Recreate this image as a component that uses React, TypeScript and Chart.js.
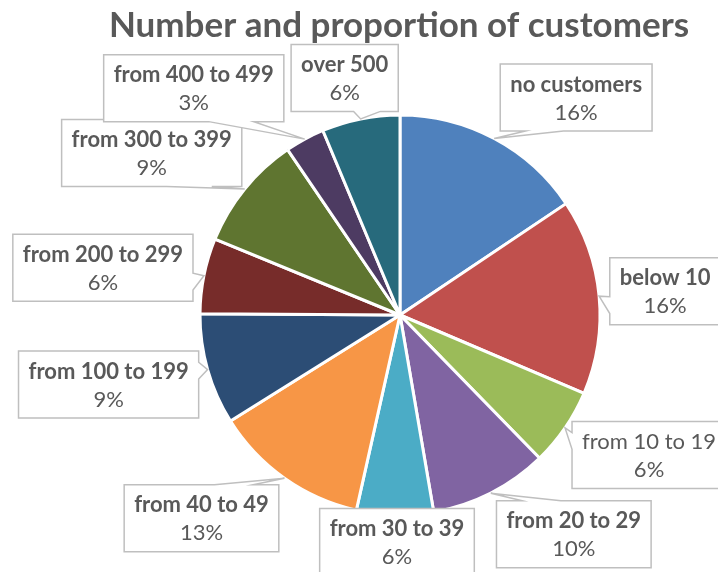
import React, { useEffect, useRef } from "react";
import { Chart, registerables } from "chart.js";

Chart.register(...registerables);

const TITLE = "Number and proportion of customers";
const categories = [
  "no customers",
  "below 10",
  "from 10 to 19",
  "from 20 to 29",
  "from 30 to 39",
  "from 40 to 49",
  "from 100 to 199",
  "from 200 to 299",
  "from 300 to 399",
  "from 400 to 499",
  "over 500",
];
const shares = [15.6, 15.8, 6.3, 9.6, 6.2, 12.6, 9.0, 6.1, 9.3, 3.2, 6.3];

const colors = [
  "#4F81BD", "#C0504D", "#9BBB59", "#8064A2", "#4BACC6", "#F79646",
  "#2C4D75", "#772C2A", "#5F7530", "#4D3B62", "#276A7C",
];
// callout box centre offsets relative to the slice's outer mid point
const labelOffsetX = [82, 66, 84, 83, 2, -83, -99, -101, -93, -111, -16];
const labelOffsetY = [-41, -5, 27, 41, 27, 40, 15, -8, -36, -51, -41];
const boldName = [true, true, false, true, true, true, true, true, true, true, true];

const FONT = "Lato, 'Open Sans', sans-serif";
const TEXT = "#595959";
const LABEL_SIZE = 22;

function calloutPath(ctx: CanvasRenderingContext2D, l: number, t: number, w: number, h: number, px: number, py: number) {
  const r = l + w, b = t + h;
  const hc = l + w / 2, vc = t + h / 2;
  const dx = px - hc, dy = py - vc;
  ctx.beginPath();
  const inside = px >= l && px <= r && py >= t && py <= b;
  if (inside) {
    ctx.rect(l, t, w, h);
    return;
  }
  const dq = (dx * h) / w;
  const dz = Math.abs(dy) - Math.abs(dq);
  if (dz > 0) {
    const x1 = l + (w * (dx > 0 ? 7 : 2)) / 12;
    const x2 = l + (w * (dx > 0 ? 10 : 5)) / 12;
    if (dy < 0) {
      ctx.moveTo(l, t); ctx.lineTo(x1, t); ctx.lineTo(px, py); ctx.lineTo(x2, t);
      ctx.lineTo(r, t); ctx.lineTo(r, b); ctx.lineTo(l, b); ctx.closePath();
    } else {
      ctx.moveTo(l, t); ctx.lineTo(r, t); ctx.lineTo(r, b); ctx.lineTo(x2, b);
      ctx.lineTo(px, py); ctx.lineTo(x1, b); ctx.lineTo(l, b); ctx.closePath();
    }
  } else {
    const y1 = t + (h * (dy > 0 ? 7 : 2)) / 12;
    const y2 = t + (h * (dy > 0 ? 10 : 5)) / 12;
    if (dx < 0) {
      ctx.moveTo(l, t); ctx.lineTo(r, t); ctx.lineTo(r, b); ctx.lineTo(l, b);
      ctx.lineTo(l, y2); ctx.lineTo(px, py); ctx.lineTo(l, y1); ctx.closePath();
    } else {
      ctx.moveTo(l, t); ctx.lineTo(r, t); ctx.lineTo(r, y1); ctx.lineTo(px, py);
      ctx.lineTo(r, y2); ctx.lineTo(r, b); ctx.lineTo(l, b); ctx.closePath();
    }
  }
}

const calloutPlugin = {
  id: "callouts",
  afterDatasetsDraw(chart: any) {
    const ctx: CanvasRenderingContext2D = chart.ctx;
    const meta = chart.getDatasetMeta(0);
    const data = chart.data.datasets[0].data as number[];
    const total = data.reduce((a, b) => a + b, 0);
    ctx.save();
    meta.data.forEach((arc: any, i: number) => {
      const p = arc.getProps(["x", "y", "startAngle", "endAngle", "outerRadius"], true);
      const mid = (p.startAngle + p.endAngle) / 2;
      const px = p.x + Math.cos(mid) * p.outerRadius;
      const py = p.y + Math.sin(mid) * p.outerRadius;
      const cx = px + labelOffsetX[i];
      const cy = py + labelOffsetY[i];
      const name = chart.data.labels[i] as string;
      const pct = Math.round((data[i] / total) * 100) + "%";
      const nameFont = `${boldName[i] ? "bold " : ""}${LABEL_SIZE}px ${FONT}`;
      const pctFont = `${LABEL_SIZE}px ${FONT}`;
      ctx.font = nameFont;
      const w1 = ctx.measureText(name).width;
      ctx.font = pctFont;
      const w2 = ctx.measureText(pct).width;
      const w = Math.max(w1, w2) + 20;
      const h = 67;
      const l = cx - w / 2, t = cy - h / 2;
      calloutPath(ctx, l, t, w, h, px, py);
      ctx.fillStyle = "#ffffff";
      ctx.fill();
      ctx.strokeStyle = "#bfbfbf";
      ctx.lineWidth = 1.5;
      ctx.stroke();
      ctx.fillStyle = TEXT;
      ctx.textAlign = "center";
      ctx.textBaseline = "middle";
      ctx.font = nameFont;
      ctx.fillText(name, cx, cy - 13);
      ctx.font = pctFont;
      ctx.fillText(pct, cx, cy + 15);
    });
    // title
    ctx.font = `bold 35px ${FONT}`;
    ctx.fillStyle = TEXT;
    ctx.textAlign = "center";
    ctx.textBaseline = "alphabetic";
    ctx.fillText(TITLE, 399, 37);
    ctx.restore();
  },
};

export default function App() {
  const ref = useRef<HTMLCanvasElement>(null);
  useEffect(() => {
    if (!ref.current) return;
    const chart = new Chart(ref.current, {
      type: "pie",
      data: {
        labels: categories,
        datasets: [
          {
            data: shares,
            backgroundColor: colors,
            borderColor: "#ffffff",
            borderWidth: 3,
            radius: 200,
          } as any,
        ],
      },
      options: {
        responsive: false,
        animation: false,
        layout: { padding: { left: 200, right: 118, top: 115, bottom: 57 } },
        plugins: {
          legend: { display: false },
          tooltip: { enabled: false },
          title: { display: false },
        },
      },
      plugins: [calloutPlugin],
    });
    return () => chart.destroy();
  }, []);
  return (
    <div style={{ position: "fixed", left: 0, top: 0, width: 718, height: 572, background: "#fff" }}>
      <canvas ref={ref} width={718} height={572} style={{ display: "block" }} />
    </div>
  );
}
